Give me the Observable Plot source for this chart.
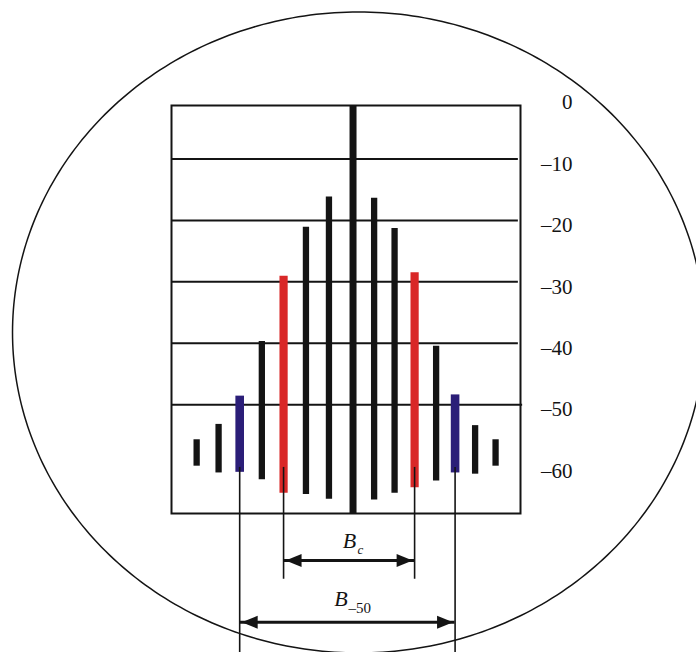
<!DOCTYPE html>
<html>
<head>
<meta charset="utf-8">
<script src="https://cdn.jsdelivr.net/npm/d3@7"></script>
<script src="https://cdn.jsdelivr.net/npm/@observablehq/plot@0.6"></script>
<style>
  html, body { margin: 0; padding: 0; background: white; }
  #chart svg { display: block; }
</style>
</head>
<body>
<div id="chart"></div>
<script>
// ---- Data ----
// Frequency offset of each spectral line (channel units, 0 = carrier)
const freqOffsets = [-7.34, -6.31, -5.32, -4.28, -3.26, -2.21, -1.13, 0, 0.99, 1.95, 2.89, 3.90, 4.79, 5.73, 6.69];
// Top level of each line (dB)
const topLevels = [-55.7, -53.2, -48.6, -39.7, -29.1, -21.1, -16.2, -1.3, -16.4, -21.3, -28.5, -40.5, -48.4, -53.4, -55.7];
// Bottom level of each line (dB)
const bottomLevels = [-60.0, -61.1, -61.0, -62.2, -64.4, -64.6, -65.4, -67.7, -65.5, -64.4, -63.5, -62.4, -61.1, -61.3, -60.0];
// Role of each line
const lineKinds = ["side", "side", "b50", "side", "bc", "side", "side", "carrier", "side", "side", "bc", "side", "b50", "side", "side"];
// Horizontal grid levels (dB)
const gridLevels = [-10, -20, -30, -40];
const extendedGridLevels = [-50];
// Tick values and labels (right side)
const tickValues = [0, -10, -20, -30, -40, -50, -60];
const tickLabels = ["0", "–10", "–20", "–30", "–40", "–50", "–60"];
// Annotation levels (dB, below the frame)
const markerTop = -60.2;
const bcMarkerBottom = -78.4;
const b50MarkerBottom = -90.5;
const bcArrowLevel = -75.35;
const b50ArrowLevel = -85.4;
const bcLabelLevel = -73.3;
const b50LabelLevel = -82.8;

// ---- Build tables ----
const lines = freqOffsets.map((x, i) => ({x, top: topLevels[i], bottom: bottomLevels[i], kind: lineKinds[i]}));
const colorByKind = {side: "#141414", carrier: "#141414", bc: "#d92828", b50: "#2b1e78"};
const widthByKind = {side: 6.3, carrier: 7, bc: 8.2, b50: 8.6};

const bcLines = lines.filter(d => d.kind === "bc");
const b50Lines = lines.filter(d => d.kind === "b50");

const xDomain = [-8.52, 7.86];
const yDomain = [-67.7, -1.3];

// Outer ellipse (decorative frame of the figure)
const ell = {cx: 0.258, cy: -38.24, rx: 16.24, ry: 52.16};
const ellipse = d3.range(0, 361, 1).map(a => {
  const t = a * Math.PI / 180;
  return {x: ell.cx + ell.rx * Math.cos(t), y: ell.cy + ell.ry * Math.sin(t)};
});

// Arrowhead symbols (tip at the anchor)
const headLeft = {draw(ctx) { ctx.moveTo(0, 0); ctx.lineTo(16, -6.5); ctx.lineTo(16, 6.5); ctx.closePath(); }};
const headRight = {draw(ctx) { ctx.moveTo(0, 0); ctx.lineTo(-16, -6.5); ctx.lineTo(-16, 6.5); ctx.closePath(); }};

const arrows = [
  {x1: bcLines[0].x, x2: bcLines[1].x, y: bcArrowLevel},
  {x1: b50Lines[0].x, x2: b50Lines[1].x, y: b50ArrowLevel}
];

const serif = "'Liberation Serif', 'DejaVu Serif', serif";
const ink = "#141414";

const plot = Plot.plot({
  width: 696,
  height: 652,
  marginLeft: 171,
  marginRight: 176,
  marginTop: 105,
  marginBottom: 139,
  x: {domain: xDomain, axis: null},
  y: {domain: yDomain, axis: null},
  color: {type: "identity"},
  style: {background: "white", fontFamily: serif},
  marks: [
    Plot.line(ellipse, {x: "x", y: "y", stroke: ink, strokeWidth: 1.5, clip: false}),
    Plot.ruleY(gridLevels, {x1: xDomain[0], x2: xDomain[1] - 0.1, stroke: ink, strokeWidth: 2}),
    Plot.ruleY(extendedGridLevels, {x1: xDomain[0], x2: xDomain[1] + 0.1, stroke: ink, strokeWidth: 2}),
    Plot.frame({stroke: ink, strokeWidth: 2}),
    Plot.ruleX(lines, {
      x: "x", y1: "bottom", y2: "top",
      stroke: d => colorByKind[d.kind],
      strokeWidth: d => widthByKind[d.kind],
      strokeLinecap: "butt"
    }),
    // marker lines down from the Bc and B-50 lines
    Plot.ruleX(bcLines, {x: "x", y1: markerTop, y2: bcMarkerBottom, stroke: ink, strokeWidth: 1.6, clip: false}),
    Plot.ruleX(b50Lines, {x: "x", y1: markerTop, y2: b50MarkerBottom, stroke: ink, strokeWidth: 1.6, clip: false}),
    // double arrows
    Plot.ruleY(arrows, {x1: "x1", x2: "x2", y: "y", stroke: ink, strokeWidth: 3.2, dx: 0}),
    Plot.dot(arrows, {x: "x1", y: "y", symbol: headLeft, fill: ink, stroke: "none", dx: 2}),
    Plot.dot(arrows, {x: "x2", y: "y", symbol: headRight, fill: ink, stroke: "none", dx: -2}),
    // labels
    Plot.text([{x: (bcLines[0].x + bcLines[1].x) / 2, y: bcLabelLevel}], {
      x: "x", y: "y", text: () => "B", fontSize: 22, fontStyle: "italic", fontFamily: serif,
      lineAnchor: "bottom", textAnchor: "middle", fill: ink, dx: 0.5
    }),
    Plot.text([{x: (bcLines[0].x + bcLines[1].x) / 2, y: bcLabelLevel}], {
      x: "x", y: "y", text: () => "c", fontSize: 13, fontStyle: "italic", fontFamily: serif,
      lineAnchor: "bottom", textAnchor: "start", fill: ink, dx: 8.5, dy: 5.7
    }),
    Plot.text([{x: (b50Lines[0].x + b50Lines[1].x) / 2, y: b50LabelLevel}], {
      x: "x", y: "y", text: () => "B", fontSize: 22, fontStyle: "italic", fontFamily: serif,
      lineAnchor: "bottom", textAnchor: "middle", fill: ink, dx: -6.4
    }),
    Plot.text([{x: (b50Lines[0].x + b50Lines[1].x) / 2, y: b50LabelLevel}], {
      x: "x", y: "y", text: () => "–50", fontSize: 15, fontFamily: serif,
      lineAnchor: "bottom", textAnchor: "start", fill: ink, dx: 1, dy: 6.3
    }),
    // right-hand tick labels
    Plot.text(tickValues, {
      x: xDomain[1], y: d => d, text: (d, i) => tickLabels[i],
      fontSize: 21, fontFamily: serif, textAnchor: "end", fill: ink, dx: 52, dy: 5
    })
  ]
});

document.getElementById("chart").appendChild(plot);
</script>
</body>
</html>
